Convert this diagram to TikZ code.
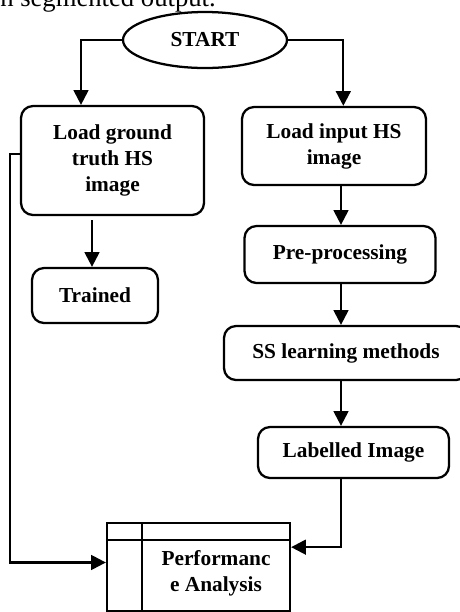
\documentclass[tikz,border=0pt]{standalone}
\usepackage{fontspec}
\setmainfont{Liberation Serif}
\usepackage{tikz}
\usetikzlibrary{shapes.geometric,arrows.meta,positioning,calc}
\tikzstyle{step box} = [draw, rectangle, rounded corners=9pt, align=center, line width=1.7pt, inner sep=0pt, font=\bfseries]
\tikzstyle{terminal} = [draw, ellipse, line width=1.7pt, inner sep=0pt, minimum width=123pt, minimum height=42pt, font=\bfseries]
\tikzstyle{store} = [draw, rectangle, line width=1.7pt, inner sep=0pt, minimum width=137.25pt, minimum height=66pt]
\tikzstyle{arr} = [draw, line width=1.7pt, ->]

\begin{document}
\begin{tikzpicture}[x=0.75pt, y=-0.75pt, >={Triangle[length=11pt,width=11pt]}, line join=miter]
    \fontsize{16}{19.5}\selectfont
    \useasboundingbox (0,0) rectangle (460,612);

    % cut-off line of the page text above the chart
    \node [anchor=base west, inner sep=0pt, font=\fontsize{20}{24}\selectfont] (cap) at (0,6) {n segmented output.};

    \node [terminal] (start) at (205,40) {START};

    \node [step box, minimum width=137.25pt, minimum height=81.75pt] (gt) at (112.5,160.5) {Load ground\\truth HS\\image};
    \node [step box, minimum width=138pt, minimum height=58.5pt] (input) at (334,146) {Load input HS\\image};
    \node [step box, minimum width=94.5pt, minimum height=41.25pt] (trained) at (95,295.5) {Trained};
    \node [step box, minimum width=143.25pt, minimum height=42.75pt] (pre) at (340,254.5) {Pre-processing};
    \node [step box, minimum width=183pt, minimum height=40.5pt] (ss) at (346,353) {SS learning methods};
    \node [step box, minimum width=143.25pt, minimum height=38.25pt] (lab) at (353.5,452.5) {Labelled Image};

    \node [store] (perf) at (198.5,567) {};
    \draw [line width=1.7pt] (perf.north west |- 0,540) -- (perf.north east |- 0,540);
    \draw [line width=1.7pt] (142,0 |- perf.north) -- (142,0 |- perf.south);
    \node [align=center, font=\bfseries] (perftext) at (216,573) {Performanc\\e Analysis};

    \coordinate (spine) at (341,0);
    \coordinate (back) at (10,0);
    \coordinate (gtout) at ($(gt.north west)!0.44!(gt.south west)$);
    \coordinate (perfin) at ($(perf.north west)!0.45!(perf.south west)$);
    \coordinate (labin) at ($(perf.north east)!0.28!(perf.south east)$);

    \draw [arr] (start.west) -| ($(gt.north west)!0.33!(gt.north east)$);
    \draw [arr] (start.east) -| ($(input.north west)!0.55!(input.north east)$);
    \draw [arr] ($(gt.south -| trained.north)+(-3,4)$) -- ($(trained.north)+(-3,0)$);
    \draw [arr] (input.south -| spine) -- (pre.north -| spine);
    \draw [arr] (pre.south -| spine) -- (ss.north -| spine);
    \draw [arr] (ss.south -| spine) -- (lab.north -| spine);
    \draw [arr] (lab.south -| spine) |- (labin);
    \draw [arr] (gtout) -| (back |- perfin) -- (perfin);
\end{tikzpicture}
\end{document}
